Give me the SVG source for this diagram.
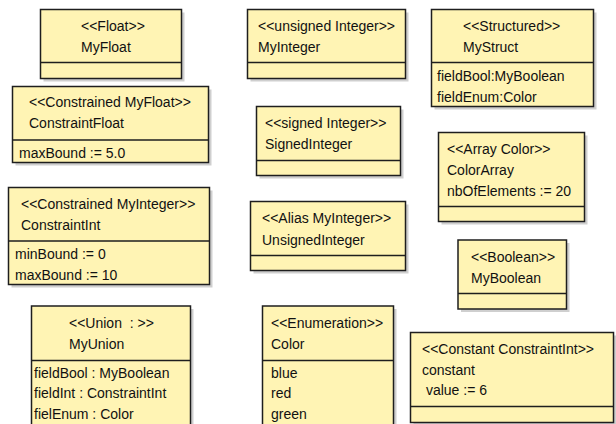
<svg xmlns="http://www.w3.org/2000/svg" width="616" height="424" viewBox="0 0 616 424">
<style>
.sh{fill:#cfcfcf;stroke:none}
.bx{fill:#fff4b4;stroke:#1e1e1e;stroke-width:1.5}
.dv{stroke:#1e1e1e;stroke-width:1.5}
text{font-family:"Liberation Sans",Arial,sans-serif;font-size:14px;fill:#111}
</style>
<rect width="616" height="424" fill="#ffffff"/>
<g id="MyFloat">
<rect class="sh" x="43.5" y="12.5" width="141" height="69"/>
<rect class="bx" x="40.5" y="9.5" width="141" height="69"/>
<line class="dv" x1="40.5" y1="62.5" x2="181.5" y2="62.5"/>
<text x="81" y="31">&lt;&lt;Float&gt;&gt;</text>
<text x="81" y="52">MyFloat</text>
</g>
<g id="ConstraintFloat">
<rect class="sh" x="15.5" y="89.5" width="196" height="76"/>
<rect class="bx" x="12.5" y="86.5" width="196" height="76"/>
<line class="dv" x1="12.5" y1="140" x2="208.5" y2="140"/>
<text x="29" y="107">&lt;&lt;Constrained MyFloat&gt;&gt;</text>
<text x="29" y="128">ConstraintFloat</text>
<text x="19" y="158">maxBound := 5.0</text>
</g>
<g id="ConstraintInt">
<rect class="sh" x="11.5" y="190.5" width="201" height="97"/>
<rect class="bx" x="8.5" y="187.5" width="201" height="97"/>
<line class="dv" x1="8.5" y1="241" x2="209.5" y2="241"/>
<text x="21" y="209">&lt;&lt;Constrained MyInteger&gt;&gt;</text>
<text x="21" y="230">ConstraintInt</text>
<text x="15" y="259">minBound := 0</text>
<text x="15" y="280">maxBound := 10</text>
</g>
<g id="MyUnion">
<rect class="sh" x="34.5" y="309" width="159" height="130"/>
<rect class="bx" x="31.5" y="306" width="159" height="130"/>
<line class="dv" x1="31.5" y1="360.5" x2="190.5" y2="360.5"/>
<text x="69" y="328" xml:space="preserve">&lt;&lt;Union  : &gt;&gt;</text>
<text x="69" y="349">MyUnion</text>
<text x="34" y="378">fieldBool : MyBoolean</text>
<text x="34" y="398">fieldInt : ConstraintInt</text>
<text x="34" y="419">fielEnum : Color</text>
</g>
<g id="MyInteger">
<rect class="sh" x="250.5" y="12.5" width="158" height="69"/>
<rect class="bx" x="247.5" y="9.5" width="158" height="69"/>
<line class="dv" x1="247.5" y1="62.5" x2="405.5" y2="62.5"/>
<text x="258" y="31">&lt;&lt;unsigned Integer&gt;&gt;</text>
<text x="258" y="52">MyInteger</text>
</g>
<g id="SignedInteger">
<rect class="sh" x="259.5" y="109.5" width="144" height="69"/>
<rect class="bx" x="256.5" y="106.5" width="144" height="69"/>
<line class="dv" x1="256.5" y1="160.5" x2="400.5" y2="160.5"/>
<text x="265" y="128">&lt;&lt;signed Integer&gt;&gt;</text>
<text x="265" y="149">SignedInteger</text>
</g>
<g id="UnsignedInteger">
<rect class="sh" x="253.5" y="204.5" width="155" height="69"/>
<rect class="bx" x="250.5" y="201.5" width="155" height="69"/>
<line class="dv" x1="250.5" y1="255.5" x2="405.5" y2="255.5"/>
<text x="262" y="223">&lt;&lt;Alias MyInteger&gt;&gt;</text>
<text x="262" y="245">UnsignedInteger</text>
</g>
<g id="Color">
<rect class="sh" x="265.5" y="309" width="131" height="130"/>
<rect class="bx" x="262.5" y="306" width="131" height="130"/>
<line class="dv" x1="262.5" y1="360.5" x2="393.5" y2="360.5"/>
<text x="271" y="328">&lt;&lt;Enumeration&gt;&gt;</text>
<text x="271" y="349">Color</text>
<text x="271" y="378">blue</text>
<text x="271" y="398">red</text>
<text x="271" y="419">green</text>
</g>
<g id="MyStruct">
<rect class="sh" x="434.5" y="12.5" width="162" height="97"/>
<rect class="bx" x="431.5" y="9.5" width="162" height="97"/>
<line class="dv" x1="431.5" y1="62.5" x2="593.5" y2="62.5"/>
<text x="463" y="31">&lt;&lt;Structured&gt;&gt;</text>
<text x="463" y="52">MyStruct</text>
<text x="437" y="81">fieldBool:MyBoolean</text>
<text x="437" y="102">fieldEnum:Color</text>
</g>
<g id="ColorArray">
<rect class="sh" x="441.5" y="135.5" width="146" height="89"/>
<rect class="bx" x="438.5" y="132.5" width="146" height="89"/>
<line class="dv" x1="438.5" y1="206.5" x2="584.5" y2="206.5"/>
<text x="447" y="154">&lt;&lt;Array Color&gt;&gt;</text>
<text x="447" y="175">ColorArray</text>
<text x="447" y="196">nbOfElements := 20</text>
</g>
<g id="MyBoolean">
<rect class="sh" x="461" y="243" width="108.5" height="69"/>
<rect class="bx" x="458" y="240" width="108.5" height="69"/>
<line class="dv" x1="458" y1="293.5" x2="566.5" y2="293.5"/>
<text x="471" y="262">&lt;&lt;Boolean&gt;&gt;</text>
<text x="471" y="283">MyBoolean</text>
</g>
<g id="constant">
<rect class="sh" x="413.5" y="335.5" width="203" height="90"/>
<rect class="bx" x="410.5" y="332.5" width="203" height="90"/>
<line class="dv" x1="410.5" y1="406.5" x2="613.5" y2="406.5"/>
<text x="422" y="354">&lt;&lt;Constant ConstraintInt&gt;&gt;</text>
<text x="422" y="375">constant</text>
<text x="422" y="395" xml:space="preserve"> value := 6</text>
</g>
<g id="connectors"/>
</svg>
